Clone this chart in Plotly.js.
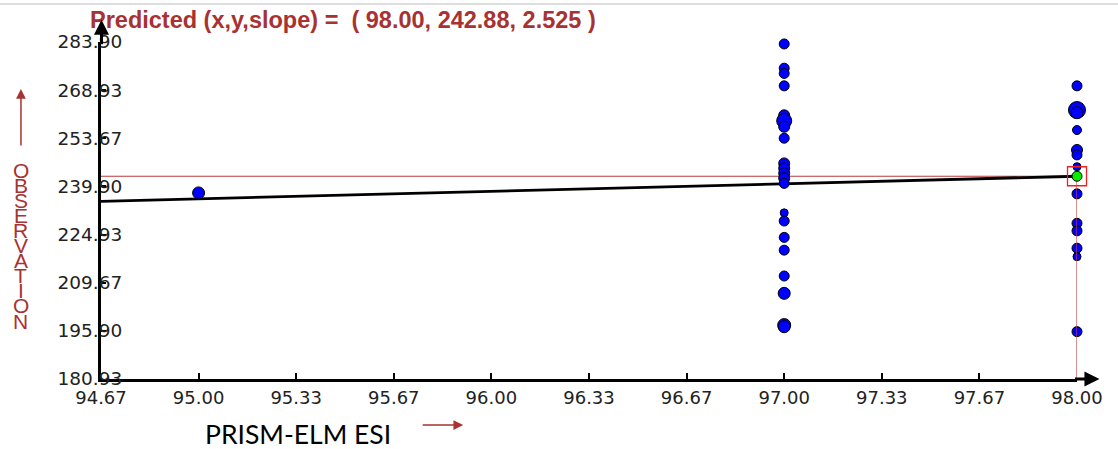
<!DOCTYPE html>
<html>
<head>
<meta charset="utf-8">
<script src="https://cdn.plot.ly/plotly-3.0.1.min.js"></script>
<style>html,body{margin:0;padding:0;background:#fff;}#chart{width:1118px;height:449px;}</style>
</head>
<body>
<div id="chart"></div>
<script>
// ---- data ----
const xTickVals = [94.6667, 95.0, 95.3333, 95.6667, 96.0, 96.3333, 96.6667, 97.0, 97.3333, 97.6667, 98.0];
const xTickText = ['94.67','95.00','95.33','95.67','96.00','96.33','96.67','97.00','97.33','97.67','98.00'];
const yTickVals = [180.93, 195.64, 210.35, 225.06, 239.77, 254.48, 269.19, 283.90];
const yTickText = ['180.93','195.90','209.67','224.93','239.90','253.67','268.93','283.90'];

const obsX = [95,
  97,97,97,97,97,97,97,97,97,97,97,97,97,97,97,97,97,97,97,97,97,
  98,98,98,98,98,98,98,98,98,98,98,98,98];
const obsY = [237.8,
  283.3,275.9,274.3,270.5,261.5,259.8,258.0,254.5,246.8,245.3,243.8,242.3,240.7,231.7,229.2,224.2,220.3,212.4,207.1,197.4,196.9,
  270.5,263.1,262.3,257.0,250.9,249.4,245.8,237.5,228.5,226.2,220.9,218.3,195.4];
const obsWeight = [12,
  10,10,10,10,11,15,11,10,11,11,11,11,10,8,10,10,10,10,12,13,12,
  10,17,12,9,11,10,8,10,10,10,10,8,10];

const fitX = [94.6667, 98.0];
const fitY = [235.2, 242.88];

const predX = 98.00, predY = 242.88, predSlope = 2.525;
const xMin = 94.6667, yMin = 180.93, yMax = 283.90;

const titleText = 'Predicted (x,y,slope) =  ( ' + predX.toFixed(2) + ', ' + predY.toFixed(2) + ', ' + predSlope.toFixed(3) + ' )';
const yTitle = 'OBSERVATION';
const xTitle = 'PRISM-ELM ESI';

// ---- styles ----
const RED = '#a83232';
const traces = [
  {x:[xMin, predX], y:[predY, predY], mode:'lines', line:{color:'#b53a3a', width:1.2}, hoverinfo:'skip', cliponaxis:false},
  {x:fitX, y:fitY, mode:'lines', line:{color:'#000', width:2.8}, hoverinfo:'skip', cliponaxis:false},
  {x:obsX, y:obsY, mode:'markers', cliponaxis:false,
   marker:{color:'#0000ff', opacity:1, size:obsWeight, line:{color:'#000', width:1}}},
  {x:[predX, predX], y:[predY, yMin], mode:'lines', line:{color:'#c04848', width:1.2}, hoverinfo:'skip', cliponaxis:false},
  {x:[predX], y:[predY], mode:'markers', cliponaxis:false,
   marker:{color:'#00ee00', opacity:1, size:10, line:{color:'#000', width:1}}},
  {x:[predX], y:[predY], mode:'markers', cliponaxis:false,
   marker:{symbol:'square-open', color:'#ee2222', opacity:1, size:19, line:{color:'#ee2222', width:1.3}}}
];

const annotations = [
  // axis arrows
  {xref:'paper', yref:'paper', x:1.023, y:0, ax:-26, ay:0, text:'', showarrow:true, arrowhead:2, arrowsize:1, arrowwidth:3, arrowcolor:'#000'},
  {xref:'paper', yref:'paper', x:0.0005, y:1.066, ax:0, ay:26, text:'', showarrow:true, arrowhead:2, arrowsize:1, arrowwidth:3, arrowcolor:'#000'},
  // red title arrows
  {xref:'paper', yref:'paper', x:-0.082, y:0.8605, ax:0, ay:58, text:'', showarrow:true, arrowhead:2, arrowsize:1.3, arrowwidth:1.5, arrowcolor:RED},
  {xref:'paper', yref:'paper', x:0.3711, y:-0.1365, ax:-42, ay:0, text:'', showarrow:true, arrowhead:2, arrowsize:1.3, arrowwidth:1.5, arrowcolor:RED},
  // x title
  {xref:'paper', yref:'paper', x:0.1046, y:-0.163, xanchor:'left', yanchor:'middle', text:xTitle, showarrow:false,
   font:{family:'Lato, "Open Sans", sans-serif', size:26.5, color:'#000'}}
];
// stacked vertical y title
const letters = yTitle.split('');
letters.forEach(function(ch, i){
  annotations.push({xref:'paper', yref:'paper', x:-0.082, y:0.62 - i*0.0448, xanchor:'center', yanchor:'middle',
    text:ch, showarrow:false, font:{family:'Liberation Sans, Arial, sans-serif', size:21, color:RED}});
});

const layout = {
  width:1118, height:449,
  margin:{l:101, r:41, t:42, b:70},
  paper_bgcolor:'#fff', plot_bgcolor:'#fff',
  showlegend:false,
  title:{text:titleText, x:90/1118, xanchor:'left', xref:'container', y:1-20/449, yanchor:'middle', yref:'container',
    font:{family:'Liberation Sans, Arial, sans-serif', size:23.5, color:RED, weight:'bold'}},
  xaxis:{range:[xMin, 98.0], tickmode:'array', tickvals:xTickVals, ticktext:xTickText,
    showgrid:false, zeroline:false, showline:true, linecolor:'#000', linewidth:3,
    ticks:'inside', ticklen:6, tickwidth:2, tickcolor:'#000',
    tickfont:{family:'DejaVu Sans, sans-serif', size:18, color:'#222'}},
  yaxis:{range:[yMin, yMax], tickmode:'array', tickvals:yTickVals, ticktext:yTickText,
    showgrid:false, zeroline:false, showline:true, linecolor:'#000', linewidth:3,
    ticks:'inside', ticklen:5, tickwidth:2, tickcolor:'#000',
    ticklabelstandoff:-28,
    tickfont:{family:'DejaVu Sans, sans-serif', size:18.5, color:'#222'}},
  shapes:[
    {type:'line', xref:'paper', yref:'paper', x0:-0.104, x1:1.042, y0:1.1128, y1:1.1128, line:{color:'#dddddd', width:2}}
  ],
  annotations:annotations
};

Plotly.newPlot('chart', traces, layout, {staticPlot:true, displayModeBar:false});
</script>
</body>
</html>
